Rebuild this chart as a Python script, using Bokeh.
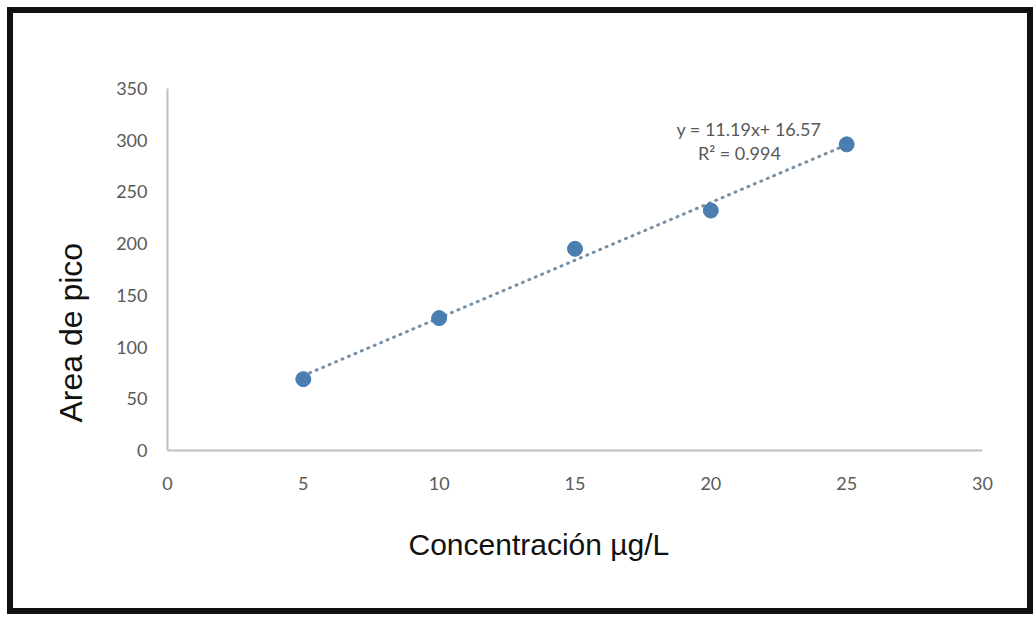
import numpy as np
from bokeh.plotting import figure
from bokeh.models import Label, FixedTicker, Range1d, Title
from bokeh.embed import file_html
from bokeh.resources import INLINE

# ---- data ----
concentracion = [5, 10, 15, 20, 25]
area_pico = [69, 128, 195, 232, 296]
x_ticks = [0, 5, 10, 15, 20, 25, 30]
y_ticks = [0, 50, 100, 150, 200, 250, 300, 350]
eq_text = "y = 11.19x+ 16.57"
r2_text = "R\u00b2 = 0.994"
x_title = "Concentración µg/L"
y_title = "Area de pico"

p = figure(
    width=1014, height=595,
    frame_width=815, frame_height=362,
    min_border_left=154, min_border_right=45,
    min_border_top=75, min_border_bottom=158,
    x_range=Range1d(0, 30), y_range=Range1d(0, 350),
    output_backend="svg", toolbar_location=None,
    background_fill_color="white", border_fill_color="white",
)
p.styles = {"border": "6px solid #111111", "margin-left": "7px", "margin-top": "7px"}
p.outline_line_color = None
p.xgrid.visible = False
p.ygrid.visible = False

for ax, ticks, standoff in ((p.xaxis[0], x_ticks, 26), (p.yaxis[0], y_ticks, 20)):
    ax.ticker = FixedTicker(ticks=ticks)
    ax.minor_tick_line_color = None
    ax.major_tick_line_color = None
    ax.major_tick_in = 0
    ax.major_tick_out = 0
    ax.axis_line_color = "#BFBFBF"
    ax.axis_line_width = 2
    ax.major_label_text_color = "#595959"
    ax.major_label_text_font = "Lato"
    ax.major_label_text_font_size = "18px"
    ax.major_label_standoff = standoff

# trendline from least squares fit of the data
slope, intercept = np.polyfit(concentracion, area_pico, 1)
xt = np.array([min(concentracion), max(concentracion)])
p.line(xt, slope * xt + intercept, line_color="#7890A6", line_width=3,
       line_dash="1 6", line_cap="round")

p.scatter(concentracion, area_pico, size=15, fill_color="#4A7EB0",
          line_color="#4A7EB0")

p.add_layout(Label(x=21.4, y=311, text=eq_text, text_align="center",
                   text_baseline="middle", text_font="Lato",
                   text_font_size="18px", text_color="#595959"))
p.add_layout(Label(x=21.05, y=288, text=r2_text, text_align="center",
                   text_baseline="middle", text_font="Lato",
                   text_font_size="18px", text_color="#595959"))

p.add_layout(Title(text=x_title, align="left", offset=241, standoff=66,
                   text_font="Liberation Sans", text_font_size="30px",
                   text_font_style="normal", text_color="#111111"), "below")
p.add_layout(Title(text=y_title, align="left", offset=28, standoff=49,
                   text_font="Liberation Sans", text_font_size="32px",
                   text_font_style="normal", text_color="#111111"), "left")

open("out.html", "w").write(file_html(p, INLINE))
